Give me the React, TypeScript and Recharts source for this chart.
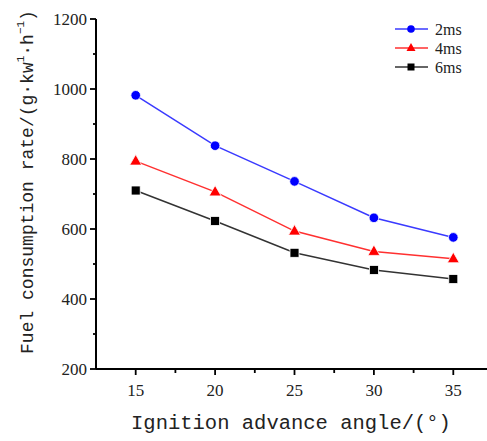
import React from 'react';
import { LineChart, Line, XAxis, YAxis } from 'recharts';

const angles = [15, 20, 25, 30, 35];
const rate2ms = [982, 838, 736, 632, 576];
const rate4ms = [794, 706, 594, 536, 515];
const rate6ms = [710, 623, 532, 483, 457];
const xTicks = [15, 17.5, 20, 22.5, 25, 27.5, 30, 32.5, 35];
const yTicks = [200, 300, 400, 500, 600, 700, 800, 900, 1000, 1100, 1200];
const seriesNames = ['2ms', '4ms', '6ms'];

const data = angles.map((a, i) => ({ angle: a, s2: rate2ms[i], s4: rate4ms[i], s6: rate6ms[i] }));

const SERIF = '"Liberation Serif", "Times New Roman", serif';
const MONO = '"Liberation Mono", "DejaVu Sans Mono", monospace';
const TXT = '#222';

const CircleDot = (p: any) => (
  <circle cx={p.cx} cy={p.cy} r={4.8} fill="#0000ff" stroke="#ffffff" strokeWidth={0.8} />
);
const TriDot = (p: any) => (
  <polygon
    points={`${p.cx},${p.cy - 6.5} ${p.cx - 6},${p.cy + 4} ${p.cx + 6},${p.cy + 4}`}
    fill="#ff0000"
    stroke="#ffffff"
    strokeWidth={0.8}
  />
);
const SqDot = (p: any) => (
  <rect x={p.cx - 4.5} y={p.cy - 4.5} width={9} height={9} fill="#000000" stroke="#ffffff" strokeWidth={0.8} />
);

const XTick = (props: any) => {
  const { x, y, payload } = props;
  const major = payload.value % 5 === 0;
  return (
    <g>
      <line x1={x} x2={x} y1={y} y2={y + (major ? 6 : 4)} stroke="#000" strokeWidth={1.8} />
      {major && (
        <text x={x} y={y + 27} textAnchor="middle" fontFamily={SERIF} fontSize={17} fill={TXT}>
          {payload.value}
        </text>
      )}
    </g>
  );
};

const YTick = (props: any) => {
  const { x, y, payload } = props;
  const major = payload.value % 200 === 0;
  return (
    <g>
      <line x1={x} x2={x - (major ? 6 : 3)} y1={y} y2={y} stroke="#000" strokeWidth={1.8} />
      {major && (
        <text x={x - 9} y={y} dy="0.35em" textAnchor="end" fontFamily={SERIF} fontSize={17} fill={TXT}>
          {payload.value}
        </text>
      )}
    </g>
  );
};

const YTitle = (props: any) => {
  const vb = props.viewBox || {};
  const cx = 28;
  const cy = vb.y + vb.height / 2 - 12;
  return (
    <text
      x={cx}
      y={cy}
      transform={`rotate(-90, ${cx}, ${cy})`}
      textAnchor="middle"
      dominantBaseline="central"
      fontFamily={MONO}
      fontSize={18}
      fill={TXT}
    >
      Fuel consumption rate/(g·kw
      <tspan fontSize={11} dy={-7}>1</tspan>
      <tspan dy={7}>·h</tspan>
      <tspan fontSize={11} dy={-7}>−1</tspan>
      <tspan dy={7}>)</tspan>
    </text>
  );
};

const XTitle = (props: any) => {
  const vb = props.viewBox || {};
  return (
    <text x={291} y={vb.y + 60} textAnchor="middle" fontFamily={MONO} fontSize={20.5} fill={TXT}>
      Ignition advance angle/(°)
    </text>
  );
};

const legendItems = [
  { name: seriesNames[0], color: '#0000ff', line: '#3a3aff', shape: 'circle' },
  { name: seriesNames[1], color: '#ff0000', line: '#ff3030', shape: 'tri' },
  { name: seriesNames[2], color: '#000000', line: '#333333', shape: 'sq' },
];

const LegendBox = () => (
  <svg width={95} height={60} style={{ position: 'absolute', left: 392, top: 19 }}>
    {legendItems.map((it, i) => {
      const cy = 10 + i * 19;
      const cx = 19;
      return (
        <g key={it.name}>
          <line x1={3} x2={36} y1={cy} y2={cy} stroke={it.line} strokeWidth={1.5} />
          {it.shape === 'circle' && <circle cx={cx} cy={cy} r={3.8} fill={it.color} />}
          {it.shape === 'tri' && (
            <polygon points={`${cx},${cy - 5} ${cx - 4.5},${cy + 3} ${cx + 4.5},${cy + 3}`} fill={it.color} />
          )}
          {it.shape === 'sq' && <rect x={cx - 3.5} y={cy - 3.5} width={7} height={7} fill={it.color} />}
          <text x={43} y={cy} dy="0.35em" fontFamily={SERIF} fontSize={16} fill={TXT}>
            {it.name}
          </text>
        </g>
      );
    })}
  </svg>
);

export default function App() {
  return (
    <div style={{ position: 'absolute', left: 0, top: 0, width: 487, height: 441, overflow: 'hidden', background: '#fff' }}>
      <LineChart width={493} height={441} data={data} margin={{ top: 19, right: 0, bottom: 0, left: 0 }}>
        <XAxis
          dataKey="angle"
          type="number"
          domain={[12.5, 37.5]}
          ticks={xTicks}
          interval={0}
          tickSize={0}
          tickMargin={0}
          tick={<XTick />}
          height={72}
          stroke="#000"
          axisLine={{ stroke: '#000', strokeWidth: 2 }}
          label={<XTitle />}
        />
        <YAxis
          type="number"
          domain={[200, 1200]}
          ticks={yTicks}
          interval={0}
          tickSize={0}
          tickMargin={0}
          tick={<YTick />}
          width={96}
          stroke="#000"
          axisLine={{ stroke: '#000', strokeWidth: 2 }}
          label={<YTitle />}
        />
        <Line dataKey="s2" name={seriesNames[0]} stroke="#3a3aff" strokeWidth={1.5} dot={<CircleDot />} isAnimationActive={false} />
        <Line dataKey="s4" name={seriesNames[1]} stroke="#ff3030" strokeWidth={1.5} dot={<TriDot />} isAnimationActive={false} />
        <Line dataKey="s6" name={seriesNames[2]} stroke="#333333" strokeWidth={1.5} dot={<SqDot />} isAnimationActive={false} />
      </LineChart>
      <LegendBox />
    </div>
  );
}
